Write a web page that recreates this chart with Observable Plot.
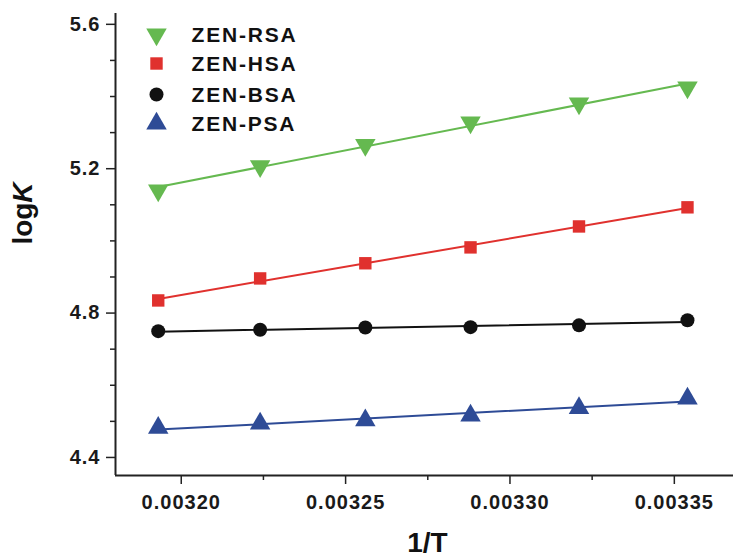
<!DOCTYPE html>
<html><head><meta charset="utf-8">
<script src="https://cdn.jsdelivr.net/npm/d3@7"></script>
<script src="https://cdn.jsdelivr.net/npm/@observablehq/plot@0.6"></script>
<style>
body{margin:0;background:#fff;}
#chart svg{font-family:"Liberation Sans",Arial,Helvetica,sans-serif;}
</style></head><body><div id="chart"></div>
<script>
// ---- data ----
const invT = [0.003193, 0.003224, 0.003256, 0.003288, 0.003321, 0.003354];
const seriesNames = ["ZEN-RSA", "ZEN-HSA", "ZEN-BSA", "ZEN-PSA"];
const rsa = [5.140, 5.207, 5.266, 5.328, 5.381, 5.425];
const hsa = [4.835, 4.896, 4.938, 4.982, 5.040, 5.093];
const bsa = [4.750, 4.754, 4.760, 4.761, 4.766, 4.780];
const psa = [4.482, 4.494, 4.503, 4.516, 4.537, 4.563];
const yMajor = [4.4, 4.8, 5.2, 5.6];
const yMinor = [4.5, 4.6, 4.7, 4.9, 5.0, 5.1, 5.3, 5.4, 5.5];
const xMajor = [0.0032, 0.00325, 0.0033, 0.00335];
const xMinor = [0.003225, 0.003275, 0.003325];
const xDomain = [0.00318, 0.003368];
const yDomain = [4.35, 5.63];
const xLabel = "1/T";
const yLabel = "logK";

// ---- styles ----
const colors = ["#65b950", "#e0312e", "#111111", "#2e4b96"];
const symbols = ["triangle", "square", "circle", "triangle"];
const rotations = [180, 0, 0, 0];
const sizes = [7.6, 7, 7, 7.6];
const legendRowDy = [21, 50, 81, 110];

const values = [rsa, hsa, bsa, psa];
const data = seriesNames.flatMap((s, i) => invT.map((x, j) => ({series: s, x, y: values[i][j]})));

const marks = [
  Plot.ruleX([xDomain[0]], {stroke: "#222", strokeWidth: 2}),
  Plot.ruleY([yDomain[0]], {stroke: "#222", strokeWidth: 2}),
  Plot.axisY(yMajor, {tickSize: 9, tickPadding: 6, tickFormat: d => d.toFixed(1), fontSize: 20, fontWeight: "bold", fill: "#1a1a1a", stroke: "#222", strokeWidth: 1.5, label: null}),
  Plot.axisY(yMinor, {tickSize: 5, tickFormat: () => "", stroke: "#222", strokeWidth: 1.5, label: null}),
  Plot.axisX(xMajor, {tickSize: 9, tickPadding: 10, tickFormat: d => d.toFixed(5), fontSize: 20, fontWeight: "bold", fill: "#1a1a1a", stroke: "#222", strokeWidth: 1.5, label: null}),
  Plot.axisX(xMinor, {tickSize: 5, tickFormat: () => "", stroke: "#222", strokeWidth: 1.5, label: null}),
  Plot.linearRegressionY(data, {x: "x", y: "y", stroke: "series", strokeWidth: 2, ci: 0})
];
seriesNames.forEach((s, i) => {
  marks.push(Plot.dot(data.filter(d => d.series === s), {x: "x", y: "y", symbol: () => symbols[i], fill: colors[i], r: sizes[i], rotate: rotations[i]}));
  marks.push(Plot.dot([s], {frameAnchor: "top-left", dx: 41, dy: legendRowDy[i], symbol: () => symbols[i], fill: colors[i], r: sizes[i], rotate: rotations[i]}));
  marks.push(Plot.text([s], {frameAnchor: "top-left", dx: 76, dy: legendRowDy[i] + 1, text: d => d, textAnchor: "start", lineAnchor: "middle", fontSize: 21, fontWeight: "bold", fill: "#111"}));
});
marks.push(Plot.text([xLabel], {frameAnchor: "bottom", dx: 3, dy: 68, text: d => d, textAnchor: "middle", lineAnchor: "middle", fontSize: 28, fontWeight: "bold", fill: "#111"}));
marks.push(Plot.text([yLabel], {frameAnchor: "left", dx: -92, dy: -31, rotate: -90, text: d => d, textAnchor: "middle", lineAnchor: "middle", fontSize: 28, fontWeight: "bold", fill: "#111"}));

const chart = Plot.plot({
  width: 734, height: 558,
  marginLeft: 115, marginRight: 1, marginTop: 13, marginBottom: 83,
  x: {domain: xDomain, axis: null},
  y: {domain: yDomain, axis: null},
  color: {domain: seriesNames, range: colors},
  symbol: {domain: symbols, range: symbols},
  style: {background: "white", color: "#222", overflow: "visible"},
  marks
});
document.getElementById("chart").appendChild(chart);

// post-render text styling
d3.select(chart).selectAll("text").each(function() {
  const t = this.textContent;
  const sel = d3.select(this);
  if (t === yLabel) {
    this.textContent = "log";
    sel.append("tspan").attr("font-style", "italic").text("K");
  } else if (seriesNames.includes(t)) {
    sel.attr("letter-spacing", "1.8px");
  } else if (/^\d\.\d+$/.test(t)) {
    sel.attr("letter-spacing", "1px");
  }
});
</script></body></html>
